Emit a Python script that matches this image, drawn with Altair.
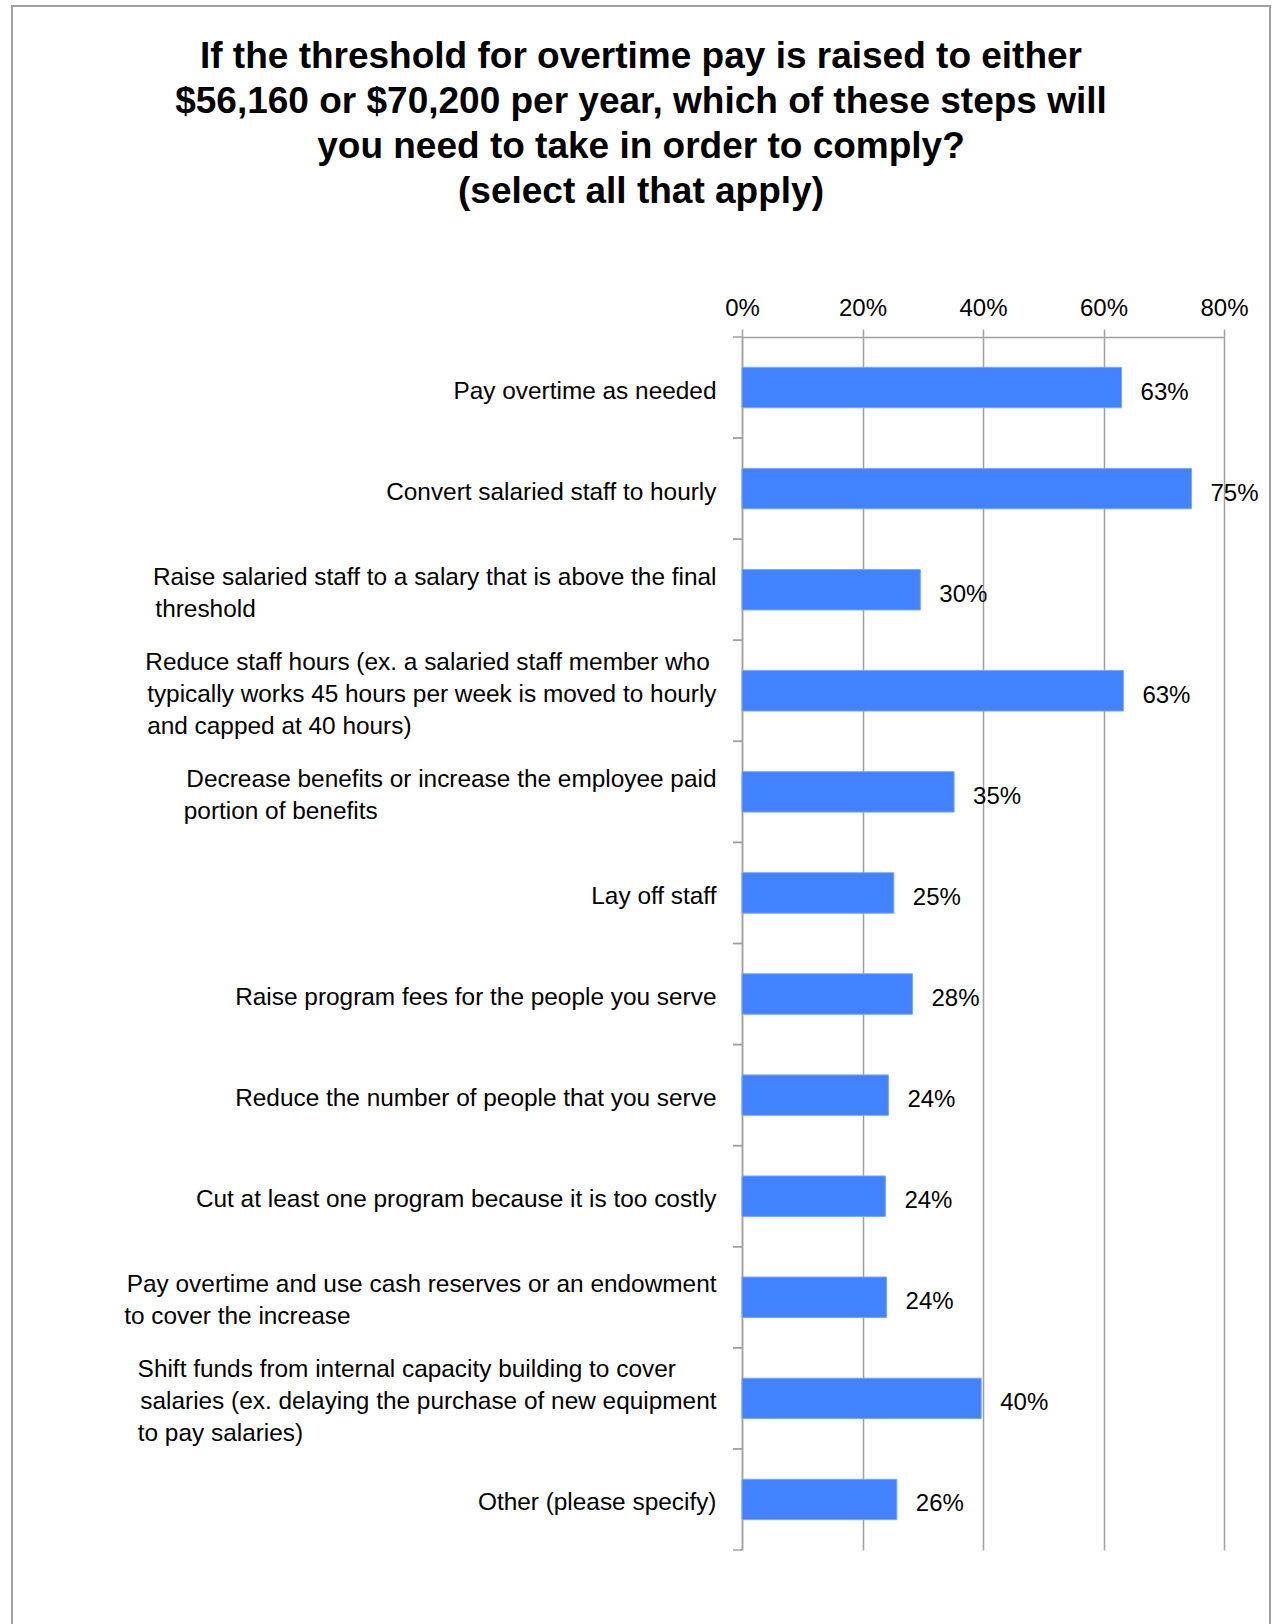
import altair as alt
import pandas as pd

# ---------------- data ----------------
title_lines = [
    "If the threshold for overtime pay is raised to either",
    "$56,160 or $70,200 per year, which of these steps will",
    "you need to take in order to comply?",
    "(select all that apply)",
]
categories = [
    ["Pay overtime as needed"],
    ["Convert salaried staff to hourly"],
    ["Raise salaried staff to a salary that is above the final", "threshold"],
    ["Reduce staff hours (ex. a salaried staff member who",
     "typically works 45 hours per week is moved to hourly",
     "and capped at 40 hours)"],
    ["Decrease benefits or increase the employee paid", "portion of benefits"],
    ["Lay off staff"],
    ["Raise program fees for the people you serve"],
    ["Reduce the number of people that you serve"],
    ["Cut at least one program because it is too costly"],
    ["Pay overtime and use cash reserves or an endowment", "to cover the increase"],
    ["Shift funds from internal capacity building to cover",
     "salaries (ex. delaying the purchase of new equipment",
     "to pay salaries)"],
    ["Other (please specify)"],
]
values = [63.0, 74.6, 29.6, 63.3, 35.2, 25.2, 28.3, 24.3, 23.8, 24.0, 39.7, 25.7]
value_labels = ["63%", "75%", "30%", "63%", "35%", "25%", "28%", "24%", "24%", "24%", "40%", "26%"]
x_ticks = [0, 20, 40, 60, 80]

# ------------- text helper: keep wrapped lines left-aligned in a right-aligned block -------------
ARIAL = {' ': 278, '(': 333, ')': 333, '.': 278, ',': 278, '?': 556, '%': 889, '$': 556}
ARIAL.update({d: 556 for d in "0123456789"})
ARIAL.update(dict(zip("abcdefghijklmnopqrstuvwxyz",
                      [556, 556, 500, 556, 556, 278, 556, 556, 222, 222, 500, 222, 833,
                       556, 556, 556, 556, 333, 500, 278, 556, 500, 722, 500, 500, 500])))
ARIAL.update(dict(zip("ABCDEFGHIJKLMNOPQRSTUVWXYZ",
                      [667, 667, 722, 722, 667, 611, 778, 722, 278, 500, 667, 556, 833,
                       722, 778, 667, 778, 722, 667, 611, 722, 667, 944, 667, 667, 611])))


def text_w(s):
    return sum(ARIAL.get(c, 556) for c in s)


def block_key(lines):
    wmax = max(text_w(l) for l in lines)
    out = []
    for l in lines:
        n = int(round((wmax - text_w(l)) / 278.0))
        # trailing no-break spaces, closed by a zero-width char so they are not trimmed
        out.append(l + ("\u00a0" * n + "\u200b" if n > 0 else ""))
    return "|".join(out)


keys = [block_key(c) for c in categories]
df = pd.DataFrame({"key": keys, "v": values, "lbl": value_labels})

GRAY = "#a0a0a0"
FONT = "Liberation Sans"
W, H = 482, 1213
STEP = H / len(keys)

ysc = alt.Scale(domain=keys, paddingInner=0.6, paddingOuter=0.3)
xsc = alt.Scale(domain=[0, 80], nice=False, zero=True)

nlines = "length(split(datum.value, '|'))"
label_offset = {
    "condition": [
        {"test": f"{nlines} == 2", "value": -12},
        {"test": f"{nlines} == 3", "value": -28},
    ],
    "value": 4,
}

base = alt.Chart(df)

bars = base.mark_bar(color="#4282ff", stroke="#78a6ff", strokeWidth=1).encode(
    x=alt.X("v:Q", scale=xsc,
            axis=alt.Axis(orient="top", values=x_ticks, labelExpr="datum.value + '%'",
                          title=None, grid=True, gridColor=GRAY, gridWidth=1.5,
                          domain=True, domainColor=GRAY, domainWidth=1.5,
                          ticks=True, tickColor=GRAY, tickWidth=1.5, tickSize=8,
                          labelFont=FONT, labelFontSize=24, labelColor="black",
                          labelPadding=9, labelFlush=False)),
    y=alt.Y("key:N", scale=ysc,
            axis=alt.Axis(title=None, labelExpr="split(datum.value, '|')",
                          ticks=False, domain=True, domainColor=GRAY, domainWidth=1.5,
                          labelFont=FONT, labelFontSize=24.4, labelColor="black",
                          labelLineHeight=32, labelPadding=26, labelLimit=800,
                          labelAlign="right", labelBaseline="middle",
                          labelOffset=label_offset, grid=False)),
)

pct = base.mark_text(align="left", baseline="middle", dx=19, dy=5, font=FONT,
                     fontSize=24, color="black").encode(
    x=alt.X("v:Q", scale=xsc),
    y=alt.Y("key:N", scale=ysc),
    text="lbl:N",
)

tick_top = base.mark_rule(color=GRAY, strokeWidth=1.5, yOffset=-STEP / 2).encode(
    y=alt.Y("key:N", scale=ysc),
    x=alt.value(-9), x2=alt.value(0),
)
tick_bot = base.mark_rule(color=GRAY, strokeWidth=1.5, yOffset=STEP / 2).encode(
    y=alt.Y("key:N", scale=ysc),
    x=alt.value(-9), x2=alt.value(0),
)

border = alt.Chart(pd.DataFrame({"b": [0]})).mark_rect(
    fill="transparent", stroke=GRAY, strokeWidth=2
).encode(
    x=alt.value(-730), x2=alt.value(528), y=alt.value(-331), y2=alt.value(1400)
)

chart = alt.layer(border, bars, pct, tick_top, tick_bot).properties(
    width=W, height=H,
    padding={"left": 742, "top": 337, "right": 48, "bottom": 74},
    autosize=alt.AutoSizeParams(type="none"),
    background="white",
    title=alt.TitleParams(text=title_lines, font=FONT, fontSize=37, fontWeight="bold",
                          lineHeight=45, anchor="middle", frame="group", dx=-342,
                          offset=-206, color="black"),
).configure_view(stroke="transparent")

chart.save("out.html", embed_options={"renderer": "svg", "actions": False})
